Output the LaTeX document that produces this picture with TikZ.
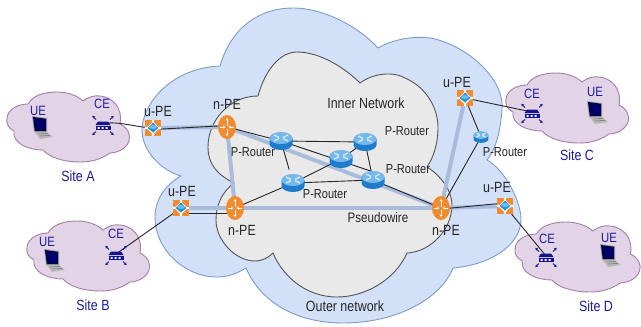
\documentclass[tikz,border=0pt]{standalone}
\usepackage{fontspec}
\setmainfont[FakeStretch=0.84]{Liberation Sans}
\usetikzlibrary{shapes.geometric,backgrounds,arrows.meta}
\definecolor{outerfill}{HTML}{D2E1F8}
\definecolor{outerline}{HTML}{7C9CC8}
\definecolor{innerfill}{HTML}{E9E9E9}
\definecolor{innerline}{HTML}{555555}
\definecolor{sitefill}{HTML}{E2D4E6}
\definecolor{siteline}{HTML}{A27FA8}
\definecolor{pwcolor}{HTML}{A9BCDC}
\definecolor{sitetext}{HTML}{1C1C9A}
\definecolor{cenavy}{HTML}{14148C}
\definecolor{orangeicon}{HTML}{F28A2E}
\definecolor{routerblue}{HTML}{1F7CCB}
\definecolor{routertop}{HTML}{74B8EC}
\tikzset{
  x=1pt,y=-1pt,
  blk/.style={font=\fontsize{14.8}{15}\selectfont,text=black!85,inner sep=0pt},
  pwlabel/.style={font=\fontsize{13.8}{15}\selectfont,text=black!85,inner sep=0pt},
  prlabel/.style={font=\fontsize{13.1}{14}\selectfont,text=black!85,inner sep=0pt},
  sitelabel/.style={font=\fontsize{14.8}{15}\selectfont,text=sitetext,inner sep=0pt},
  dev/.style={font=\fontsize{13.5}{14}\selectfont,text=sitetext,inner sep=0pt},
  thickpw/.style={draw=pwcolor,line width=4pt},
  wire/.style={draw=black!85,line width=0.9pt},
  anchorbox/.style={circle,inner sep=0pt,minimum size=16pt,draw=none},
  pics/sitecloud/.style={code={
    \draw[fill=sitefill,draw=siteline,line width=0.9pt]
     (83,101) .. controls (88,97) and (95,95) .. (100,96)
     .. controls (112,97) and (123,107) .. (120,124)
     .. controls (128,128) and (131,135) .. (129,141)
     .. controls (126,150) and (115,153) .. (110,153)
     .. controls (100,160) and (90,162) .. (80,162)
     .. controls (65,162) and (50,158) .. (43,150)
     .. controls (28,150) and (12,143) .. (14,131)
     .. controls (8,128) and (6,123) .. (7,118)
     .. controls (8,108) and (20,104) .. (28,104)
     .. controls (33,95) and (45,92) .. (57,92)
     .. controls (68,92) and (78,96) .. (83,101) -- cycle;
  }},
  pics/routericon/.style={code={
    \fill[routerblue] (-11.5,-3) -- (-11.5,3) arc[x radius=11.5,y radius=6,start angle=180,end angle=0] -- (11.5,-3) -- cycle;
    \fill[routertop] (0,-3) ellipse[x radius=11.5,y radius=6];
    \draw[white,line width=1.3pt,opacity=.7] (-7,-6) -- (-2,-3.6) (7,-6) -- (2,-3.6) (-7,0) -- (-2,-2.4) (7,0) -- (2,-2.4);
  }},
  pics/npeicon/.style={code={
    \fill[orangeicon] (0,0) ellipse[x radius=9,y radius=12];
    \draw[white,line width=.8pt,-{Stealth[length=2.4pt,width=3pt]}] (0,-1.5) -- (0,-9);
    \draw[white,line width=.8pt,-{Stealth[length=2.4pt,width=3pt]}] (0,1.5) -- (0,9);
    \draw[white,line width=.8pt,-{Stealth[length=2.4pt,width=3pt]}] (-7,0) -- (-1.5,0);
    \draw[white,line width=.8pt,-{Stealth[length=2.4pt,width=3pt]}] (7,0) -- (1.5,0);
  }},
  pics/upeicon/.style={code={
    \fill[orangeicon] (-8,-8) rectangle (8,8);
    \fill[white] (-8,-1.2) rectangle (8,1.2) (-1.2,-8) rectangle (1.2,8);
    \fill[white] (0,-6.5) -- (6.5,0) -- (0,6.5) -- (-6.5,0) -- cycle;
    \fill[routerblue!80!cyan] (0,-5.5) -- (5.5,0) -- (0,4.5) -- (-5.5,0) -- cycle;
    \fill[routertop] (0,-1) ellipse[x radius=4,y radius=2];
  }},
  pics/ceicon/.style={code={
    \fill[cenavy] (-5,-2.5) -- (5,-2.5) -- (7.5,1) -- (-7.5,1) -- cycle;
    \fill[cenavy] (-7.5,1.8) rectangle (7.5,6);
    \fill[white] (-5.5,3) rectangle (-3.5,4.8) (-1.5,3) rectangle (.5,4.8) (2.5,3) rectangle (4.5,4.8);
    \foreach \sx/\sy in {-1/-1,1/-1,-1/1,1/1}{
      \draw[cenavy,line width=.9pt,-{Stealth[length=2.6pt,width=3.2pt]}] (\sx*7,\sy*6+1.5) -- ++(\sx*3.6,\sy*3.6);
    }
  }},
  pics/laptopicon/.style={code={
    \fill[gray!75] (-9,-11) -- (6,-9) -- (6,5) -- (-7,5) -- cycle;
    \fill[black!70!blue] (-8,-10) -- (5,-8.2) -- (5.2,4) -- (-6.2,4) -- cycle;
    \fill[blue!45!black] (-4,-7) -- (4,-6) -- (4.2,1) -- (-3,2) -- cycle;
    \fill[gray!55] (-6.5,5) -- (6,5) -- (12,10) -- (-1,12) -- cycle;
    \draw[gray!85!black,line width=.5pt] (-3,7) -- (7,6.5) (-1,9) -- (9,8.5);
  }},
}
\begin{document}
\begin{tikzpicture}[x=1pt,y=-1pt]
\useasboundingbox (0,0) rectangle (641,327);
\clip (0,0) rectangle (641,327);
% Outer and inner clouds
\fill[white] (0,0) rectangle (641,327);
\draw[fill=outerfill,draw=outerline,line width=0.9pt]
 (220,66) .. controls (232,25) and (262,8) .. (293,8)
 .. controls (325,8) and (360,28) .. (378,48)
 .. controls (395,38) and (420,35) .. (435,39)
 .. controls (470,48) and (505,80) .. (502,110)
 .. controls (500,135) and (495,150) .. (487,160)
 .. controls (505,170) and (520,200) .. (521,218)
 .. controls (522,245) and (490,265) .. (453,268)
 .. controls (440,300) and (395,323) .. (343,323)
 .. controls (300,323) and (262,305) .. (246,268)
 .. controls (235,275) and (225,277) .. (217,277)
 .. controls (185,277) and (155,250) .. (155,217)
 .. controls (155,200) and (165,185) .. (181,176)
 .. controls (160,170) and (142,150) .. (142,130)
 .. controls (142,105) and (170,68) .. (220,66) -- cycle;
\draw[fill=innerfill,draw=innerline,line width=0.9pt]
 (258,96) .. controls (265,70) and (280,52) .. (297,52)
 .. controls (320,52) and (345,68) .. (360,83)
 .. controls (375,72) and (395,72) .. (405,78)
 .. controls (428,88) and (438,110) .. (438,127)
 .. controls (438,145) and (433,158) .. (427,167)
 .. controls (440,175) and (452,190) .. (452,205)
 .. controls (452,230) and (430,252) .. (407,253)
 .. controls (395,280) and (365,297) .. (337,297)
 .. controls (305,297) and (282,275) .. (273,253)
 .. controls (268,258) and (262,261) .. (255,261)
 .. controls (235,261) and (216,240) .. (216,220)
 .. controls (216,205) and (222,192) .. (234,183)
 .. controls (218,175) and (208,165) .. (208,147)
 .. controls (208,120) and (230,96) .. (258,96) -- cycle;
% Site clouds
\pic at (0,0) {sitecloud};
\pic at (20,129) {sitecloud};
\pic at (499,-19) {sitecloud};
\pic[xscale=1.02] at (508,130) {sitecloud};
% Devices as named nodes
\node[anchorbox] (uA) at (153,128) {};
\node[anchorbox] (uB) at (181,208) {};
\node[anchorbox] (uC) at (465,98) {};
\node[anchorbox] (uD) at (505,206) {};
\node[anchorbox] (nA) at (227,127) {};
\node[anchorbox] (nB) at (235,208) {};
\node[anchorbox] (nC) at (441,208) {};
\node[anchorbox] (rA) at (281,141) {};
\node[anchorbox] (rB) at (365,142) {};
\node[anchorbox] (rC) at (341,159) {};
\node[anchorbox] (rD) at (293,183) {};
\node[anchorbox] (rE) at (373,180) {};
\node[anchorbox] (rF) at (481,137) {};
\node[anchorbox] (ceA) at (103,124) {};
\node[anchorbox] (ceB) at (116,254) {};
\node[anchorbox] (ceC) at (532,112) {};
\node[anchorbox] (ceD) at (546,256) {};
\node[anchorbox] (ueA) at (41,127) {};
\node[anchorbox] (ueB) at (53,260) {};
\node[anchorbox] (ueC) at (596,112) {};
\node[anchorbox] (ueD) at (609,255) {};
% Pseudowires
\draw[thickpw] (uA.center) -- (nA.center);
\draw[thickpw] (uB.center) -- (nB.center);
\draw[thickpw] (nA.center) -- (nB.center);
\draw[thickpw] (nA.center) -- (nC.center);
\draw[thickpw] (nB.center) -- (nC.center);
\draw[thickpw] (nC.center) -- (uD.center);
\draw[thickpw] (nC.center) -- (uC.center);
% Links
\draw[wire] (ceA.center) ++(4,-1) .. controls (122,122) and (135,127) .. (uA.center);
\draw[wire] (uA.center) ++(0,1.5) -- ([yshift=1.5pt]nA.center);
\draw[wire] (uB.center) ++(0,5) -- ([yshift=-5pt]nB.center);
\draw[wire] (ceB.center) -- (uB.center);
\draw[wire] (nA.center) -- (rA.center);
\draw[wire] (rA.center) -- (rB.center);
\draw[wire,shorten >=14pt] (rA.center) -- (rD.center);
\draw[wire] (rA.center) -- (rE.north);
\draw[wire] (rB.center) -- (rE.center);
\draw[wire] (rB.center) -- (rC.center);
\draw[wire] (rC.center) -- (rD.center);
\draw[wire] (rD.center) -- (rE.center);
\draw[wire] (rD.center) -- (nB.center);
\draw[wire] (rE.center) -- (nC.center);
\draw[wire] (nC.center) -- (rF.center);
\draw[wire] (rF.center) -- (uC.center);
\draw[wire] (uC.center) -- (ceC.center);
\draw[wire] (nC.center) ++(0,1) -- ([yshift=3pt]uD.center);
\draw[wire] (uD.center) -- (ceD.center);
% Icons
\pic at (uA) {upeicon};
\pic at (uB) {upeicon};
\pic at (uC) {upeicon};
\pic at (uD) {upeicon};
\pic at (nA) {npeicon};
\pic at (nB) {npeicon};
\pic at (nC) {npeicon};
\pic at (rA) {routericon};
\pic at (rB) {routericon};
\pic at (rC) {routericon};
\pic at (rD) {routericon};
\pic at (rE) {routericon};
\pic[scale=.65] at (rF) {routericon};
\pic at (ceA) {ceicon};
\pic at (ceB) {ceicon};
\pic at (ceC) {ceicon};
\pic at (ceD) {ceicon};
\pic at (ueA) {laptopicon};
\pic at (ueB) {laptopicon};
\pic at (ueC) {laptopicon};
\pic at (ueD) {laptopicon};
% Labels
\node[blk] (luA) at (158,111) {u-PE};
\node[blk] (luB) at (182,191) {u-PE};
\node[blk] (luC) at (457,82) {u-PE};
\node[blk] (luD) at (497,187) {u-PE};
\node[blk] (lnA) at (227,104) {n-PE};
\node[blk] (lnB) at (242,230) {n-PE};
\node[blk] (lnC) at (446,230) {n-PE};
\node[prlabel] (lrA) at (253,152) {P-Router};
\node[prlabel] (lrB) at (407,131) {P-Router};
\node[prlabel] (lrE) at (408,169) {P-Router};
\node[prlabel] (lrD) at (325,194) {P-Router};
\node[prlabel] (lrF) at (505,152) {P-Router};
\node[blk] (linner) at (366,103) {Inner Network};
\node[pwlabel] (lpw) at (378,218) {Pseudowire};
\node[blk] (louter) at (345,306) {Outer network};
\node[dev] (lueA) at (38,111) {UE};
\node[dev] (lceA) at (102,104) {CE};
\node[dev] (lueB) at (47,242) {UE};
\node[dev] (lceB) at (116,234) {CE};
\node[dev] (lueC) at (595,92) {UE};
\node[dev] (lceC) at (532,94) {CE};
\node[dev] (lueD) at (609,238) {UE};
\node[dev] (lceD) at (547,239) {CE};
\node[sitelabel] (lsA) at (78,176) {Site A};
\node[sitelabel] (lsB) at (93,305) {Site B};
\node[sitelabel] (lsC) at (577,155) {Site C};
\node[sitelabel] (lsD) at (596,306) {Site D};
\end{tikzpicture}
\end{document}
